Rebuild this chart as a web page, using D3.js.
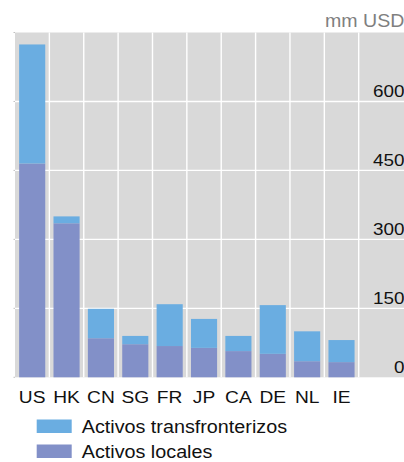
<!DOCTYPE html>
<html><head><meta charset="utf-8">
<script src="https://cdn.jsdelivr.net/npm/d3@7/dist/d3.min.js"></script>
<style>body{margin:0;background:#fff;overflow:hidden}svg{display:block}text{font-family:"Liberation Sans",Arial,sans-serif}</style>
</head><body><svg id="c" width="404" height="462"></svg>
<script>
const categories = ["US","HK","CN","SG","FR","JP","CA","DE","NL","IE"];
const locales = [465,335,85,72,68,64,57,51,35,33];
const totales = [724,350,149,90,159,127,90,157,100,81];
const transfronterizos = totales.map((t,i)=>t-locales[i]);
const yTicks = [0,150,300,450,600];
const seriesNames = ["Activos transfronterizos","Activos locales"];
const colors = {"Activos transfronterizos":"#6aade1","Activos locales":"#8290c8"};
const unitLabel = "mm USD";

const svg = d3.select("#c");
const L=15, R=358.7, T=32.5, B=377.3, W=404;
const x = d3.scaleBand().domain(categories).range([L,R]).paddingInner(0.24).paddingOuter(0.12);
const y = d3.scaleLinear().domain([0,750]).range([B,T]);
const step = x.step();

svg.append("rect").attr("x",L).attr("y",T).attr("width",W-L).attr("height",B-T).attr("fill","#d9d9d9");
svg.selectAll(".vg").data(categories).join("line")
  .attr("x1",d=>x(d)+x.bandwidth()/2+step/2)
  .attr("x2",d=>x(d)+x.bandwidth()/2+step/2)
  .attr("y1",T).attr("y2",B).attr("stroke","#fff").attr("stroke-width",1.4);
svg.selectAll(".hg").data(yTicks.filter(d=>d>0)).join("line")
  .attr("x1",L).attr("x2",W).attr("y1",d=>y(d)).attr("y2",d=>y(d))
  .attr("stroke","#fff").attr("stroke-width",1.4);
svg.selectAll(".lt").data(yTicks.concat([750])).join("line")
  .attr("x1",L-1.5).attr("x2",L).attr("y1",d=>y(d)).attr("y2",d=>y(d))
  .attr("stroke","#b0b0b0").attr("stroke-width",0.8);

const data = categories.map((c,i)=>({cat:c,"Activos locales":locales[i],"Activos transfronterizos":transfronterizos[i]}));
const stack = d3.stack().keys(["Activos locales","Activos transfronterizos"])(data);
svg.selectAll(".s").data(stack).join("g").attr("fill",d=>colors[d.key])
  .selectAll("rect").data(d=>d).join("rect")
  .attr("x",d=>x(d.data.cat)).attr("width",x.bandwidth())
  .attr("y",d=>y(d[1])).attr("height",d=>y(d[0])-y(d[1]));

svg.selectAll(".yl").data(yTicks).join("text")
  .attr("transform",d=>`translate(404.5,${y(d)-4.6}) scale(1.16,1)`)
  .attr("text-anchor","end").attr("font-size",16.3).attr("fill","#111").text(d=>d);
svg.selectAll(".xl").data(categories).join("text")
  .attr("transform",d=>`translate(${x(d)+x.bandwidth()/2},402.8) scale(1.13,1)`)
  .attr("text-anchor","middle").attr("font-size",17).attr("fill","#111").text(d=>d);
svg.append("text").attr("transform","translate(404.5,27.3) scale(1.06,1)").attr("text-anchor","end")
  .attr("font-size",18.5).attr("fill","#7f7f7f").text(unitLabel);
const lg = svg.selectAll(".lg").data(seriesNames).join("g")
  .attr("transform",(d,i)=>`translate(36.7,${419.5+i*25})`);
lg.append("rect").attr("width",35).attr("height",13.5).attr("fill",d=>colors[d]);
lg.append("text").attr("transform","translate(45,13.6) scale(1.13,1)").attr("font-size",17.5).attr("fill","#111")
  .text(d=>d);
</script></body></html>
